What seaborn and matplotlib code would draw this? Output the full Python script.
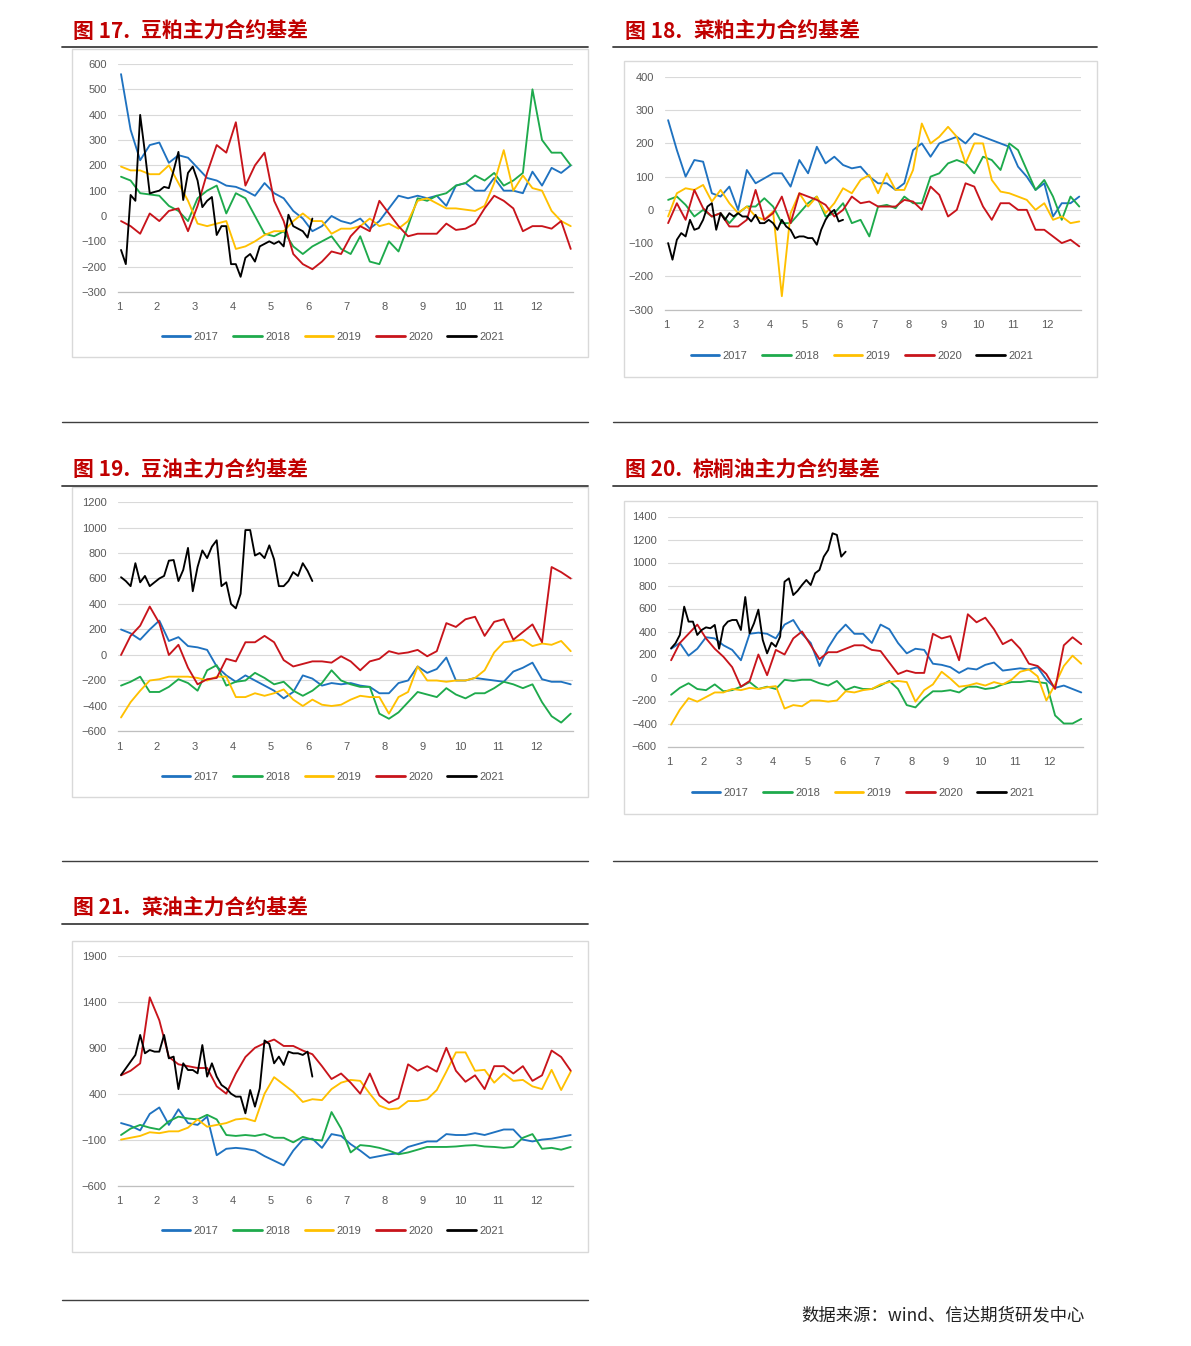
import numpy as np
import pandas as pd
import matplotlib
matplotlib.use("Agg")
import matplotlib.pyplot as plt
import seaborn as sns
from matplotlib.lines import Line2D
from matplotlib.patches import Rectangle

sns.set_style("white")
plt.rcParams['font.family'] = ['Liberation Sans', 'Noto Sans CJK SC', 'DejaVu Sans']

years = ['2017', '2018', '2019', '2020', '2021']
colors = ['#1F72C0', '#1EAA4C', '#FFC000', '#C8141B', '#000000']
months = list(range(1, 13))
day_start = 1.05
end_full = 12.92     # last trading day shown for full years
end_2021 = 6.10      # last trading day shown for 2021

# 图17 豆粕
c17_2017 = [560,340,220,280,290,210,240,230,190,150,140,120,115,100,80,130,90,70,20,-10,-60,-40,0,-20,-30,-10,-50,-20,30,80,70,80,70,80,40,120,130,100,100,150,100,100,90,175,120,190,170,200]
c17_2018 = [155,140,90,85,80,40,20,-20,70,100,120,10,90,70,0,-70,-80,-60,-120,-150,-120,-100,-80,-130,-150,-80,-180,-190,-100,-140,-40,70,60,80,90,120,130,160,140,170,120,140,170,500,300,250,250,200]
c17_2019 = [195,180,180,165,165,200,130,60,-30,-40,-30,-20,-130,-120,-100,-75,-60,-60,-20,10,-20,-20,-70,-50,-50,-40,-10,-40,-30,-50,-20,60,70,50,30,30,25,20,40,130,260,100,160,110,100,20,-20,-40]
c17_2020 = [-20,-40,-70,10,-20,20,30,-60,40,170,280,250,370,120,200,250,60,-20,-150,-190,-210,-180,-140,-150,-80,-40,-60,60,10,-40,-80,-70,-70,-70,-30,-55,-50,-30,30,80,60,30,-60,-40,-40,-50,-20,-130]
c17_2021 = [-134,-190,83,60,399,250,89,95,100,115,110,180,253,63,170,195,140,35,60,75,-75,-40,-40,-190,-190,-240,-165,-150,-180,-120,-110,-100,-110,-100,-120,5,-40,-50,-60,-85,-10]

# 图18 菜粕
c18_2017 = [270,180,100,150,145,50,40,70,0,120,80,95,110,110,70,150,110,190,140,160,135,125,130,100,80,80,60,80,180,200,160,200,210,220,200,230,220,210,200,190,130,100,60,80,-20,20,20,40]
c18_2018 = [30,40,15,-20,0,-20,-10,-40,-10,10,10,35,10,-40,-40,-10,20,40,-20,-10,20,-40,-30,-80,10,15,5,40,20,20,100,110,140,150,140,110,160,150,120,200,180,120,60,90,40,-30,40,10]
c18_2019 = [-20,50,65,60,75,25,60,20,-10,10,-20,-30,-5,-260,-10,50,10,40,-10,20,65,50,90,105,50,110,60,60,120,260,200,220,250,220,140,200,200,90,55,50,40,30,0,20,-30,-20,-40,-35]
c18_2020 = [-40,20,-30,60,5,-20,-10,-50,-50,-30,60,-30,-10,40,-40,50,40,30,15,-20,0,40,20,25,10,10,10,30,25,0,70,45,-20,0,80,70,10,-30,20,20,0,0,-60,-60,-80,-100,-90,-110]
c18_2021 = [-100,-150,-90,-70,-80,-30,-60,-55,-30,10,20,-60,-10,-30,-10,-20,-10,-20,-20,-35,-15,-40,-40,-30,-40,-60,-30,-50,-60,-85,-80,-80,-85,-85,-105,-60,-30,-10,0,-35,-30]

# 图19 豆油
c19_2017 = [200,170,120,200,270,110,140,70,60,40,-90,-160,-210,-160,-200,-240,-280,-340,-290,-160,-185,-240,-220,-230,-220,-240,-250,-300,-300,-220,-200,-90,-140,-110,-20,-200,-200,-180,-190,-200,-210,-130,-100,-60,-190,-210,-210,-230]
c19_2018 = [-240,-210,-170,-290,-290,-250,-190,-220,-280,-120,-80,-240,-210,-200,-140,-180,-230,-210,-280,-320,-280,-220,-120,-200,-230,-250,-250,-460,-500,-450,-370,-290,-310,-330,-260,-310,-340,-300,-300,-260,-210,-230,-260,-230,-370,-480,-530,-460]
c19_2019 = [-490,-370,-280,-200,-190,-170,-170,-170,-180,-200,-170,-170,-330,-330,-300,-320,-300,-270,-350,-400,-350,-390,-400,-390,-350,-320,-330,-330,-460,-330,-290,-90,-200,-200,-210,-200,-200,-180,-120,20,100,110,120,70,90,80,110,30]
c19_2020 = [0,150,230,380,250,0,80,-100,-230,-190,-180,-30,-50,100,100,150,100,-40,-90,-70,-50,-50,-60,-10,-50,-120,-50,-30,30,10,20,40,-10,30,250,220,280,300,150,260,280,120,180,240,100,690,650,600]
c19_2021 = [610,580,540,720,570,620,540,570,600,620,740,745,580,667,840,500,690,820,760,850,900,540,570,400,366,480,980,980,780,800,760,860,750,540,540,580,650,620,720,660,580]

# 图20 棕榈油
c20_2017 = [250,300,190,250,350,340,280,240,150,380,390,380,340,460,500,380,300,100,260,380,460,380,380,300,460,420,300,210,250,240,120,110,90,40,80,70,110,130,60,70,80,70,90,-20,-90,-70,-100,-130]
c20_2018 = [-150,-90,-50,-100,-110,-60,-120,-110,-80,-40,-100,-80,-100,-20,-30,-20,-20,-50,-70,-30,-110,-80,-100,-100,-70,-30,-100,-240,-260,-180,-120,-120,-110,-130,-80,-80,-100,-90,-60,-40,-40,-30,-40,-50,-330,-400,-400,-360]
c20_2019 = [-410,-280,-180,-210,-170,-130,-130,-100,-110,-90,-100,-85,-75,-270,-240,-250,-200,-200,-210,-200,-120,-130,-110,-100,-60,-40,-30,-40,-210,-110,-60,50,-10,-80,-70,-50,-70,-40,-60,-20,50,70,10,-200,-60,100,190,120]
c20_2020 = [150,300,380,460,340,250,180,90,-80,-30,200,20,240,200,340,400,280,160,220,220,250,280,280,240,230,130,30,60,40,40,380,340,360,150,550,480,520,420,290,330,250,120,100,30,-100,280,350,290]
c20_2021 = [254,297,370,616,486,486,370,413,436,428,457,250,442,486,500,500,413,700,384,471,590,327,210,303,268,356,833,862,717,754,804,848,804,906,935,1051,1109,1254,1240,1051,1094]

# 图21 菜油
c21_2017 = [80,50,0,180,250,60,230,80,60,150,-270,-200,-190,-200,-220,-280,-330,-380,-220,-100,-90,-190,-40,-60,-150,-220,-300,-280,-260,-250,-180,-150,-120,-120,-40,-50,-50,-30,-50,-20,10,10,-100,-120,-100,-90,-70,-50]
c21_2018 = [-50,20,60,30,10,100,150,130,120,170,120,-50,-60,-50,-60,-40,-80,-80,-130,-70,-100,-110,200,20,-240,-160,-170,-190,-220,-260,-240,-210,-180,-180,-180,-175,-165,-160,-175,-180,-190,-180,-80,-40,-200,-190,-210,-180]
c21_2019 = [-100,-80,-60,-20,-30,-10,-10,30,120,40,60,80,120,130,100,400,580,500,420,310,340,330,450,520,550,540,400,270,230,240,320,320,340,440,640,850,850,650,660,520,620,540,550,480,450,660,440,640]
c21_2020 = [600,650,730,1450,1200,800,720,700,680,680,480,400,620,800,900,950,990,920,920,870,830,700,560,620,520,400,620,380,300,350,720,650,700,640,900,650,530,600,450,700,700,620,700,540,600,870,800,650]
c21_2021 = [604,676,749,822,1040,840,876,858,858,1040,785,804,450,731,658,658,622,930,586,731,586,495,458,400,368,368,186,440,259,458,980,942,731,804,713,858,840,840,822,858,586]

W, H = 1191, 1346
fig = plt.figure(figsize=(W / 100, H / 100), dpi=100, facecolor='white')

RED = '#C00000'
CJK = ['Noto Sans CJK SC', 'DejaVu Sans']


def hline(x0, x1, y, color='#3F3F3F', lw=1.3):
    fig.add_artist(Line2D([x0 / W, x1 / W], [1 - y / H, 1 - y / H],
                          transform=fig.transFigure, color=color, lw=lw))


def box(x0, y0, x1, y1):
    fig.add_artist(Rectangle((x0 / W, 1 - y1 / H), (x1 - x0) / W, (y1 - y0) / H,
                             transform=fig.transFigure, fill=False,
                             edgecolor='#D9D9D9', lw=1.0))


def title(x, y, num, name, x2):
    fig.text(x / W, 1 - y / H, num, fontsize=15, fontweight='bold', color=RED,
             va='center', ha='left', family=CJK)
    fig.text(x2 / W, 1 - y / H, name, fontsize=15, fontweight='bold', color=RED,
             va='center', ha='left', family=CJK)


def chart(series, left, right, top, bottom, xlim, ylim, ystep, leg):
    ax = fig.add_axes([left / W, 1 - bottom / H, (right - left) / W, (bottom - top) / H])
    frames = []
    for yr, vals in zip(years, series):
        end = end_2021 if yr == '2021' else end_full
        frames.append(pd.DataFrame({'month': np.linspace(day_start, end, len(vals)),
                                    'basis': vals, 'year': yr}))
    df = pd.concat(frames, ignore_index=True)
    sns.lineplot(data=df, x='month', y='basis', hue='year', hue_order=years,
                 palette=colors, estimator=None, sort=False, linewidth=1.35, ax=ax)
    ax.set_xlim(*xlim)
    ax.set_ylim(*ylim)
    ax.set_yticks(np.arange(ylim[0], ylim[1] + 1, ystep))
    ax.set_xticks(months)
    ax.set_xticklabels([str(m) for m in months])
    ax.set_xlabel('')
    ax.set_ylabel('')
    ax.grid(axis='y', color='#D9D9D9', lw=0.8)
    ax.grid(axis='x', visible=False)
    ax.set_axisbelow(True)
    for s in ['top', 'right', 'left']:
        ax.spines[s].set_visible(False)
    ax.spines['bottom'].set_color('#BFBFBF')
    ax.spines['bottom'].set_linewidth(0.9)
    ax.tick_params(axis='x', length=3, width=0.8, color='#BFBFBF', pad=4.5,
                   labelsize=8, labelcolor='#595959')
    ax.tick_params(axis='y', length=0, pad=8, labelsize=8, labelcolor='#595959')
    ax.set_facecolor('none')
    h, l = ax.get_legend_handles_labels()
    lg = ax.legend(h, l, loc='center', bbox_to_anchor=(leg[0] / W, 1 - leg[1] / H),
                   bbox_transform=fig.transFigure, ncol=5, frameon=False, fontsize=8,
                   handlelength=2.6, handletextpad=0.3, columnspacing=1.3,
                   labelcolor='#595959')
    for ln in lg.get_lines():
        ln.set_linewidth(2.0)
    return ax


# frames / rules
hline(62, 588, 47); hline(613, 1097, 47)
hline(62, 588, 422, lw=1.0); hline(613, 1097, 422, lw=1.0)
hline(62, 588, 485.5); hline(613, 1097, 485.5)
hline(62, 588, 861, lw=1.0); hline(613, 1097, 861, lw=1.0)
hline(62, 588, 924)
hline(62, 588, 1300, lw=1.0)

box(72, 49, 588, 357)
box(624, 61, 1097, 377)
box(72, 487, 588, 797)
box(624, 501, 1097, 814)
box(72, 941, 588, 1252)

title(73, 31, '图 17.', '豆粕主力合约基差', 141)
title(625, 31, '图 18.', '菜粕主力合约基差', 693)
title(73, 470, '图 19.', '豆油主力合约基差', 141)
title(625, 470, '图 20.', '棕榈油主力合约基差', 693)
title(73, 908, '图 21.', '菜油主力合约基差', 141)

chart([c17_2017, c17_2018, c17_2019, c17_2020, c17_2021], 118, 573, 64, 292,
      (0.97, 12.98), (-300, 600), 100, (333, 337))
chart([c18_2017, c18_2018, c18_2019, c18_2020, c18_2021], 665, 1081, 77, 309.5,
      (0.96, 12.97), (-300, 400), 100, (862, 356))
chart([c19_2017, c19_2018, c19_2019, c19_2020, c19_2021], 118, 573, 502, 731.5,
      (0.97, 12.98), (-600, 1200), 200, (333, 777))
chart([c20_2017, c20_2018, c20_2019, c20_2020, c20_2021], 668, 1083, 516.5, 746.5,
      (0.96, 12.97), (-600, 1400), 200, (863, 792.5))
chart([c21_2017, c21_2018, c21_2019, c21_2020, c21_2021], 118, 573, 956, 1185.5,
      (0.97, 12.98), (-600, 1900), 500, (333, 1231))

fig.text(1085 / W, 1 - 1315 / H, '数据来源：wind、信达期货研发中心', fontsize=12.5,
         color='#222222', ha='right', va='center', family=CJK)

fig.savefig('out.png', dpi=100, facecolor='white')
